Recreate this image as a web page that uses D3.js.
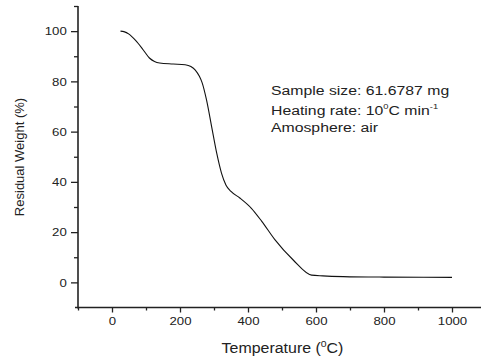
<!DOCTYPE html>
<html><head><meta charset="utf-8">
<script src="https://cdn.jsdelivr.net/npm/d3@7"></script>
<style>
html,body{margin:0;padding:0;background:#fff;}
svg{display:block;font-family:"Liberation Sans",Arial,sans-serif;}
</style></head>
<body><svg id="c" width="481" height="362"></svg>
<script>
const temperature = [25,35,50,70,92,110,125,140,180,215,232,245,257,265,278,293,308,322,335,350,376,410,440,479,533,587,620,680,800,1000];
const residualWeight = [100,99.8,98.8,96.2,92.5,89.3,87.9,87.3,86.9,86.6,85.9,84.5,82,79.5,72.6,62,51.4,43.5,38.8,36.2,33.6,29.5,24.4,17,8.9,2.9,2.6,2.3,2.1,2.0];
const xMajorTicks = [0,200,400,600,800,1000];
const xMinorTicks = [-100,100,300,500,700,900,1100];
const yMajorTicks = [0,20,40,60,80,100];
const yMinorTicks = [10,30,50,70,90,110];

const svg = d3.select("#c");
const x = d3.scaleLinear().domain([-100,1100]).range([78,486]);
const y = d3.scaleLinear().domain([-10,110]).range([307.5,6]);
const axisColor = "#222";
const stretch = 1.15;

// X axis
const gx = svg.append("g").attr("transform",`translate(0,${y(-10)})`);
gx.call(d3.axisBottom(x).tickValues(xMajorTicks).tickSize(5).tickPadding(4).tickFormat(d3.format("d")));
gx.append("g").call(d3.axisBottom(x).tickValues(xMinorTicks).tickSize(3).tickFormat(""));
gx.selectAll(".domain").remove();
gx.append("line").attr("x1",75).attr("x2",486).attr("stroke",axisColor).attr("stroke-width",1.6);

// Y axis
const gy = svg.append("g").attr("transform",`translate(${x(-100)},0)`);
gy.call(d3.axisLeft(y).tickValues(yMajorTicks).tickSize(7).tickPadding(2.8).tickFormat(d3.format("d")));
gy.append("g").call(d3.axisLeft(y).tickValues(yMinorTicks).tickSize(4).tickFormat(""));
gy.selectAll(".domain").remove();
gy.append("line").attr("y1",y(110)).attr("y2",y(-10)+1).attr("stroke",axisColor).attr("stroke-width",1.6);

svg.selectAll(".tick line").attr("stroke",axisColor).attr("stroke-width",1.3);
svg.selectAll(".tick text").attr("fill","#222").attr("transform",`scale(${stretch},1)`)
  .style("font-size","11.5px").style("font-family","'Liberation Sans',Arial,sans-serif");

// Curve
const line = d3.line().x((d,i)=>x(temperature[i])).y(d=>y(d)).curve(d3.curveMonotoneX);
svg.append("path").attr("d",line(residualWeight)).attr("fill","none").attr("stroke","#111").attr("stroke-width",1.1);

// Axis titles
svg.append("g").attr("transform","translate(282.5,353) scale(1.1,1)")
  .append("text").attr("x",0).attr("y",0).attr("text-anchor","middle")
  .attr("fill","#222").style("font-size","14.5px")
  .call(t=>{t.append("tspan").text("Temperature (");
            t.append("tspan").attr("dy",-6).style("font-size","9.5px").text("0");
            t.append("tspan").attr("dy",6).text("C)");});
svg.append("text").attr("transform","translate(24,157) rotate(-90)").attr("text-anchor","middle")
  .attr("fill","#222").style("font-size","13px").text("Residual Weight (%)");

// Annotation
const ann = svg.append("g").attr("transform","translate(271,0) scale(1.17,1)").attr("fill","#222").style("font-size","13.5px");
ann.append("text").attr("x",0).attr("y",95).text("Sample size: 61.6787 mg");
ann.append("text").attr("x",0).attr("y",115.5)
  .call(t=>{t.append("tspan").text("Heating rate: 10");
            t.append("tspan").attr("dy",-6).style("font-size","8px").text("0");
            t.append("tspan").attr("dy",6).text("C min");
            t.append("tspan").attr("dy",-6).style("font-size","8px").text("-1");});
ann.append("text").attr("x",0).attr("y",132.5).text("Amosphere: air");
</script></body></html>
